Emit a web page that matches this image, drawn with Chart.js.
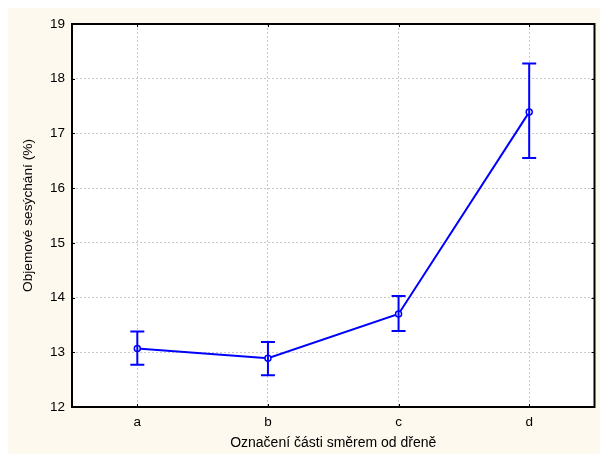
<!DOCTYPE html>
<html>
<head>
<meta charset="utf-8">
<script src="https://cdn.jsdelivr.net/npm/chart.js@4/dist/chart.umd.min.js"></script>
<style>
  html, body { margin: 0; padding: 0; background: #ffffff; }
  #wrap { width: 600px; height: 454px; position: relative; }
</style>
</head>
<body>
<div id="wrap"><canvas id="c" width="600" height="454"></canvas></div>
<script>
// Categories along the radius, from pith outward
const categories = ['a', 'b', 'c', 'd'];
// Mean volumetric shrinkage (%) and its interval bounds
const means = [13.07, 12.89, 13.70, 17.39];
const upperBounds = [13.38, 13.19, 14.03, 18.28];
const lowerBounds = [12.77, 12.58, 13.39, 16.55];
// Y axis range / tick step
const yMin = 12;
const yMax = 19;
const yStep = 1;

const BLUE = '#0000ff';
const FONT = 'Arial, "Liberation Sans", sans-serif';

// Cream page background behind the plot
const backgroundPlugin = {
  id: 'pageBackground',
  beforeDraw(chart) {
    const ctx = chart.ctx;
    ctx.save();
    ctx.fillStyle = '#fef9ee';
    ctx.fillRect(8, 8, chart.width - 8, chart.height - 8);
    const a = chart.chartArea;
    ctx.fillStyle = '#ffffff';
    ctx.fillRect(a.left, a.top, a.right - a.left, a.bottom - a.top);
    ctx.restore();
  }
};

// Vertical interval whiskers with caps
const errorBarPlugin = {
  id: 'errorBars',
  afterDatasetsDraw(chart) {
    const ctx = chart.ctx;
    const x = chart.scales.x;
    const y = chart.scales.y;
    ctx.save();
    ctx.strokeStyle = BLUE;
    ctx.lineWidth = 2;
    const half = 7;
    categories.forEach((c, i) => {
      const px = x.getPixelForValue(i);
      const yt = y.getPixelForValue(upperBounds[i]);
      const yb = y.getPixelForValue(lowerBounds[i]);
      ctx.beginPath();
      ctx.moveTo(px, yt); ctx.lineTo(px, yb);
      ctx.moveTo(px - half, yt); ctx.lineTo(px + half, yt);
      ctx.moveTo(px - half, yb); ctx.lineTo(px + half, yb);
      ctx.stroke();
    });
    ctx.restore();
  }
};

// Plot frame with small inward tick marks
const framePlugin = {
  id: 'frame',
  afterDraw(chart) {
    const ctx = chart.ctx;
    const a = chart.chartArea;
    const x = chart.scales.x;
    const y = chart.scales.y;
    ctx.save();
    ctx.strokeStyle = '#000000';
    ctx.lineWidth = 1;
    ctx.beginPath();
    for (let v = yMin + yStep; v < yMax; v += yStep) {
      const py = Math.round(y.getPixelForValue(v)) + 0.5;
      ctx.moveTo(a.left, py); ctx.lineTo(a.left + 3, py);
      ctx.moveTo(a.right, py); ctx.lineTo(a.right - 3, py);
    }
    categories.forEach((c, i) => {
      const px = Math.round(x.getPixelForValue(i)) + 0.5;
      ctx.moveTo(px, a.bottom); ctx.lineTo(px, a.bottom - 3);
      ctx.moveTo(px, a.top); ctx.lineTo(px, a.top + 3);
    });
    ctx.stroke();
    ctx.lineWidth = 2;
    ctx.strokeRect(a.left, a.top, a.right - a.left, a.bottom - a.top);
    ctx.restore();
  }
};

new Chart(document.getElementById('c'), {
  type: 'line',
  data: {
    labels: categories,
    datasets: [{
      data: means,
      borderColor: BLUE,
      borderWidth: 2,
      pointRadius: 3,
      pointBorderWidth: 1.5,
      pointBackgroundColor: '#ffffff',
      pointBorderColor: BLUE,
      tension: 0,
      fill: false
    }]
  },
  options: {
    responsive: false,
    animation: false,
    devicePixelRatio: 1,
    layout: { padding: { left: 8, top: 24, right: 4, bottom: 0 } },
    plugins: {
      legend: { display: false },
      tooltip: { enabled: false }
    },
    scales: {
      x: {
        type: 'category',
        offset: true,
        grid: {
          offset: false,
          color: '#c8c8c8',
          lineWidth: 1,
          drawTicks: false
        },
        border: { display: false, dash: [2, 2] },
        ticks: { color: '#000000', font: { family: FONT, size: 13.5 }, padding: 7 },
        title: {
          display: true,
          text: 'Označení části směrem od dřeně',
          color: '#000000',
          font: { family: FONT, size: 14 },
          padding: { top: 0, bottom: 2 }
        },
        afterFit(scale) { scale.height = 47; }
      },
      y: {
        min: yMin,
        max: yMax,
        grid: {
          color: '#c8c8c8',
          lineWidth: 1,
          drawTicks: false
        },
        border: { display: false, dash: [2, 2] },
        ticks: {
          stepSize: yStep,
          color: '#000000',
          font: { family: FONT, size: 13.5 },
          padding: 7
        },
        title: {
          display: true,
          text: 'Objemové sesýchání (%)',
          color: '#000000',
          font: { family: FONT, size: 13.7 },
          padding: { top: 12, bottom: 0 }
        },
        afterFit(scale) { scale.width = 64; }
      }
    }
  },
  plugins: [backgroundPlugin, errorBarPlugin, framePlugin]
});
</script>
</body>
</html>
